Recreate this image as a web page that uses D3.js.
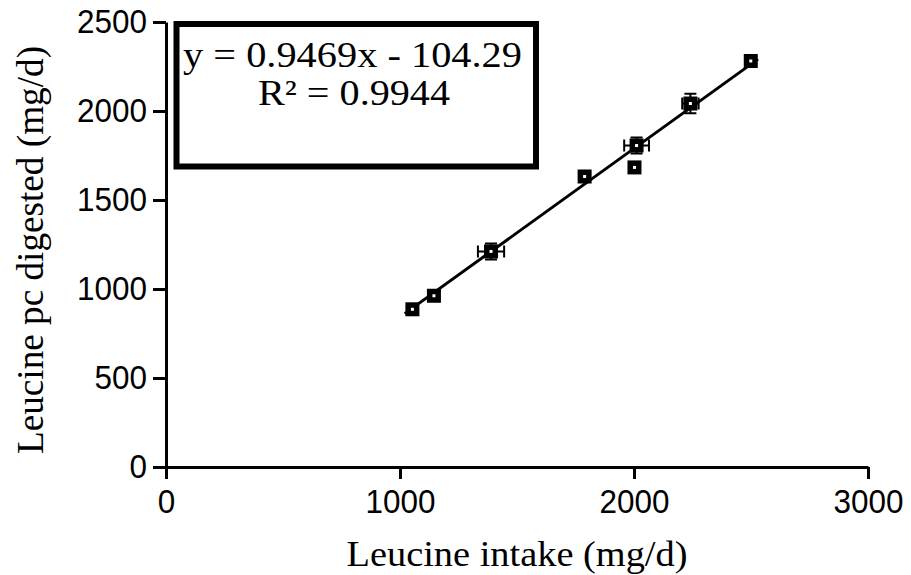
<!DOCTYPE html>
<html>
<head>
<meta charset="utf-8">
<script src="https://cdn.jsdelivr.net/npm/d3@7"></script>
<style>
  body { margin: 0; background: #fff; }
  svg { display: block; }
</style>
</head>
<body>
<svg id="canvas" width="911" height="575"></svg>
<script>
// values
let intake = [1053, 1145, 1389, 1789, 2011, 2002, 2241, 2499];
let digested = [886, 962, 1211, 1632, 1806, 1683, 2042, 2281];
let intakeErr = [0, 0, 56, 0, 53, 0, 35, 0];
let digestedErr = [0, 0, 45, 0, 45, 0, 55, 0];

let xTicks = [0, 1000, 2000, 3000];
let yTicks = [0, 500, 1000, 1500, 2000, 2500];

// fitted line as printed on the chart
let slope = 0.9469;
let intercept = -104.29;
let fitRange = [1020, 2530];
let fitLabel = "y = 0.9469x - 104.29";
let r2Label = "R\u00B2 = 0.9944";

let canvas = d3.select("#canvas");

let plotLeft = 166, plotTop = 22, plotRight = 868, plotBottom = 467;

let xScale = d3.scaleLinear().domain([0, 3000]).range([plotLeft, plotRight]);
let yScale = d3.scaleLinear().domain([0, 2500]).range([plotBottom, plotTop]);

let sans = "'Liberation Sans', Arial, sans-serif";
let serif = "'Liberation Serif', 'Times New Roman', serif";

// axes
let xAxis = d3.axisBottom(xScale).tickValues(xTicks).tickSize(12).tickSizeOuter(0).tickPadding(11).tickFormat(d3.format("d"));
let yAxis = d3.axisLeft(yScale).tickValues(yTicks).tickSize(13).tickSizeOuter(0).tickPadding(6).tickFormat(d3.format("d"));

let gx = canvas.append("g").attr("transform", "translate(0," + plotBottom + ")").call(xAxis);
let gy = canvas.append("g").attr("transform", "translate(" + plotLeft + ",0)").call(yAxis);

[gx, gy].forEach((g) => {
    g.select(".domain").attr("stroke", "#000").attr("stroke-width", 3);
    g.selectAll(".tick line").attr("stroke", "#000").attr("stroke-width", 3);
    g.selectAll(".tick text")
        .attr("fill", "#000")
        .style("font-family", sans)
        .style("font-size", "33px")
        .attr("textLength", (d) => String(d).length * 17.5)
        .attr("lengthAdjust", "spacingAndGlyphs");
});

// axis titles
canvas.append("text")
    .attr("x", 517)
    .attr("y", 566)
    .attr("text-anchor", "middle")
    .style("font-family", serif)
    .style("font-size", "35px")
    .attr("textLength", 341)
    .attr("lengthAdjust", "spacingAndGlyphs")
    .text("Leucine intake (mg/d)");

canvas.append("text")
    .attr("transform", "translate(43,250) rotate(-90)")
    .attr("text-anchor", "middle")
    .style("font-family", serif)
    .style("font-size", "37px")
    .attr("textLength", 408)
    .attr("lengthAdjust", "spacingAndGlyphs")
    .text("Leucine pc digested (mg/d)");

// regression line
canvas.append("line")
    .attr("x1", xScale(fitRange[0]))
    .attr("y1", yScale(slope * fitRange[0] + intercept))
    .attr("x2", xScale(fitRange[1]))
    .attr("y2", yScale(slope * fitRange[1] + intercept))
    .attr("stroke", "#000")
    .attr("stroke-width", 3);

let points = intake.map((x, i) => ({ x: x, y: digested[i], ex: intakeErr[i], ey: digestedErr[i] }));
let cap = 6;

// error bars
let bars = canvas.append("g").attr("stroke", "#000").attr("stroke-width", 2).attr("fill", "none");
points.filter((p) => p.ex > 0 || p.ey > 0).forEach((p) => {
    let cx = xScale(p.x), cy = yScale(p.y);
    let x0 = xScale(p.x - p.ex), x1 = xScale(p.x + p.ex);
    let y0 = yScale(p.y - p.ey), y1 = yScale(p.y + p.ey);
    bars.append("path").attr("d",
        "M" + x0 + "," + cy + "H" + x1 +
        "M" + x0 + "," + (cy - cap) + "V" + (cy + cap) +
        "M" + x1 + "," + (cy - cap) + "V" + (cy + cap) +
        "M" + cx + "," + y0 + "V" + y1 +
        "M" + (cx - cap) + "," + y0 + "H" + (cx + cap) +
        "M" + (cx - cap) + "," + y1 + "H" + (cx + cap));
});

// square markers
canvas.selectAll("rect.pt")
    .data(points)
    .enter()
    .append("rect")
    .attr("class", "pt")
    .attr("x", (d) => xScale(d.x) - 4.25)
    .attr("y", (d) => yScale(d.y) - 4.25)
    .attr("width", 8.5)
    .attr("height", 8.5)
    .attr("fill", "#fff")
    .attr("stroke", "#000")
    .attr("stroke-width", 5.5);

// equation box
canvas.append("rect")
    .attr("x", 176.5)
    .attr("y", 24)
    .attr("width", 359.5)
    .attr("height", 142.5)
    .attr("fill", "#fff")
    .attr("stroke", "#000")
    .attr("stroke-width", 6);

canvas.append("text")
    .attr("x", 352.5)
    .attr("y", 67)
    .attr("text-anchor", "middle")
    .style("font-family", serif)
    .style("font-size", "35px")
    .attr("textLength", 339)
    .attr("lengthAdjust", "spacingAndGlyphs")
    .text(fitLabel);

canvas.append("text")
    .attr("x", 354)
    .attr("y", 105)
    .attr("text-anchor", "middle")
    .style("font-family", serif)
    .style("font-size", "35px")
    .attr("textLength", 192)
    .attr("lengthAdjust", "spacingAndGlyphs")
    .text(r2Label);
</script>
</body>
</html>
